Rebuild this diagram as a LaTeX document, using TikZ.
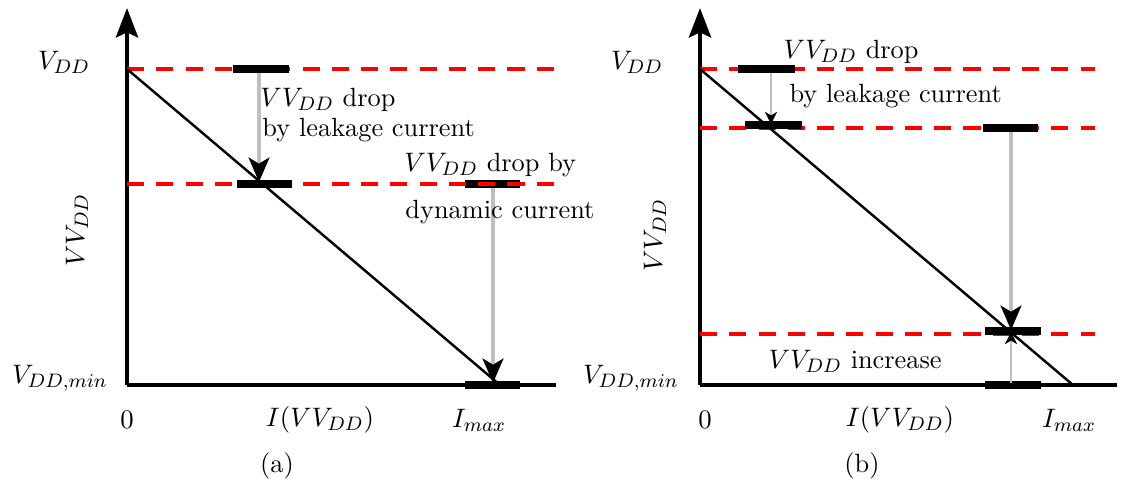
\documentclass[tikz,border=0pt]{standalone}
\usetikzlibrary{arrows.meta}
\begin{document}
\begin{tikzpicture}[x=0.41pt,y=-0.41pt,
  every node/.style={font=\fontsize{10.8}{13}\selectfont},
  axis/.style={line width=2pt,-{Stealth[length=12pt,width=9pt,inset=2pt]}},
  axisx/.style={line width=2pt},
  level/.style={red,line width=1.3pt,dash pattern=on 7pt off 5pt},
  diag/.style={line width=1pt},
  bar/.style={line width=3.4pt},
  garrow/.style={gray!50,line width=1.6pt,-{Stealth[black,length=10pt,width=8.5pt,inset=2.5pt]}},
  sgarrow/.style={gray!50,line width=0.7pt,-{Stealth[black,length=5pt,width=5pt,inset=1.5pt]}},
  lbl/.style={inner sep=0pt}]
\useasboundingbox (0,0) rectangle (1123,487);
% ---------- panel a ----------
\coordinate (aO) at (127,385);
\coordinate (aT) at (127,8);
\coordinate (aX) at (556,385);
\draw[axis] (aO) -- (aT);
\draw[axisx] (aO) -- (aX);
\coordinate (aL1s) at (127,69); \coordinate (aL1e) at (556,69);
\coordinate (aL2s) at (127,184); \coordinate (aL2e) at (556,184);
\draw[bar] (465,184) -- (520,184);
\draw[level] (aL1s) -- (aL1e);
\draw[level] (aL2s) -- (aL2e);
\draw[bar] (233,69) -- (289,69);
\draw[bar] (237,184) -- (292,184);
\draw[bar] (465,385) -- (520,385);
\coordinate (aImax) at (500,385);
\draw[diag] (aL1s) -- (aImax);
\coordinate (aA1s) at (259,73); \coordinate (aA1e) at (259,182);
\draw[garrow] (aA1s) -- (aA1e);
\coordinate (aA2s) at (493,188); \coordinate (aA2e) at (493,383);
\draw[garrow] (aA2s) -- (aA2e);
\node[lbl] (avdd) at (64,62) {$V_{DD}$};
\node[lbl] (avddmin) at (60,378) {$V_{DD,min}$};
\node[lbl,rotate=90] (avv) at (77,230) {$VV_{DD}$};
\node[lbl] (a0) at (127,420) {$0$};
\node[lbl] (aI) at (320,420) {$I(VV_{DD})$};
\node[lbl] (aImaxl) at (479,420) {$I_{max}$};
\node[lbl] (acap) at (277,466) {(a)};
\node[lbl,anchor=west] (at1) at (260,100) {$VV_{DD}$ drop};
\node[lbl,anchor=west] (at2) at (262,130) {by leakage current};
\node[lbl,anchor=west] (at3) at (404,165) {$VV_{DD}$ drop by};
\node[lbl,anchor=west] (at4) at (405,212) {dynamic current};
% ---------- panel b ----------
\coordinate (bO) at (700,385);
\coordinate (bT) at (700,8);
\coordinate (bX) at (1117,385);
\draw[axis] (bO) -- (bT);
\draw[axisx] (bO) -- (bX);
\coordinate (bL1s) at (700,69); \coordinate (bL1e) at (1095,69);
\coordinate (bL2s) at (700,128); \coordinate (bL2e) at (1095,128);
\coordinate (bL3s) at (700,334); \coordinate (bL3e) at (1095,334);
\draw[level] (bL1s) -- (bL1e);
\draw[level] (bL2s) -- (bL2e);
\draw[level] (bL3s) -- (bL3e);
\draw[bar] (738,69) -- (795,69);
\draw[bar] (745,125) -- (802,125);
\draw[bar] (983,128) -- (1038,128);
\draw[bar] (985,331) -- (1041,331);
\draw[bar] (985,385) -- (1041,385);
\coordinate (bImax) at (1073,385);
\draw[diag] (bL1s) -- (bImax);
\coordinate (bA1s) at (771,73); \coordinate (bA1e) at (771,124);
\draw[sgarrow] (bA1s) -- (bA1e);
\coordinate (bA2s) at (1011,132); \coordinate (bA2e) at (1011,330);
\draw[garrow] (bA2s) -- (bA2e);
\coordinate (bA3s) at (1011,383); \coordinate (bA3e) at (1011,332);
\draw[sgarrow] (bA3s) -- (bA3e);
\node[lbl] (bvdd) at (637,62) {$V_{DD}$};
\node[lbl] (bvddmin) at (631,378) {$V_{DD,min}$};
\node[lbl,rotate=90] (bvv) at (655,235) {$VV_{DD}$};
\node[lbl] (b0) at (705,420) {$0$};
\node[lbl] (bI) at (900,420) {$I(VV_{DD})$};
\node[lbl] (bImaxl) at (1069,420) {$I_{max}$};
\node[lbl] (bcap) at (862,466) {(b)};
\node[lbl,anchor=west] (bt1) at (783,52) {$VV_{DD}$ drop};
\node[lbl,anchor=west] (bt2) at (789,96) {by leakage current};
\node[lbl,anchor=west] (bt3) at (768,361) {$VV_{DD}$ increase};
\end{tikzpicture}
\end{document}
